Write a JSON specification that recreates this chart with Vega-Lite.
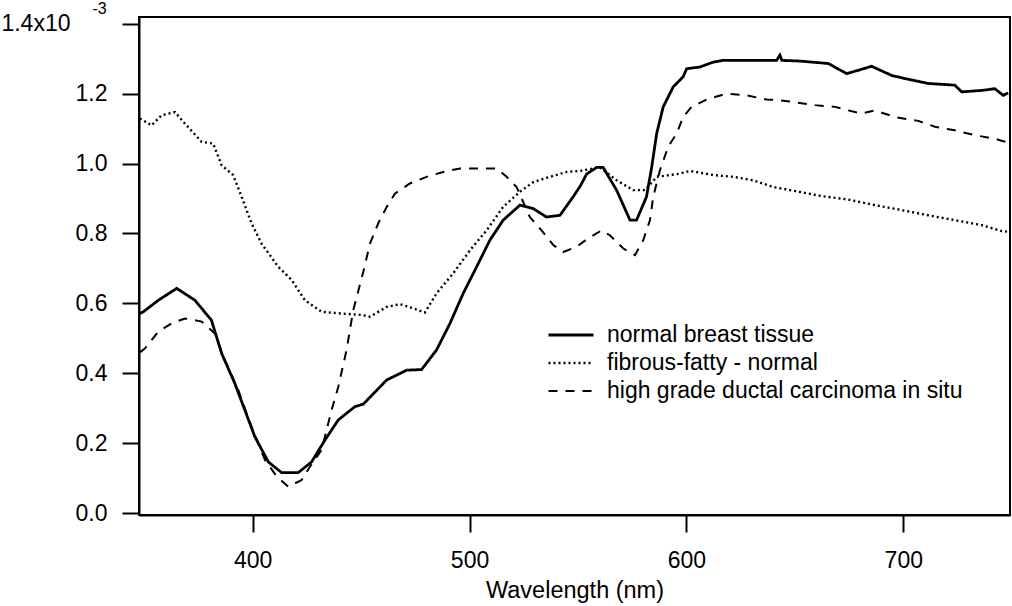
{
  "$schema": "https://vega.github.io/schema/vega-lite/v6.json",
  "width": 871,
  "height": 498,
  "autosize": "none",
  "padding": {"left": 139, "top": 17, "right": 2, "bottom": 91},
  "background": "white",
  "config": {
    "font": "Liberation Sans",
    "view": {"stroke": "black", "strokeWidth": 2},
    "axis": {
      "grid": false,
      "domainColor": "black",
      "domainWidth": 2,
      "tickColor": "black",
      "tickWidth": 2,
      "tickSize": 17,
      "labelColor": "black",
      "labelFontSize": 23,
      "labelFont": "Liberation Sans",
      "titleFont": "Liberation Sans",
      "titleColor": "black",
      "titleFontWeight": "normal",
      "titleFontSize": 23.5
    }
  },
  "datasets": {
    "spectra": [
      {"s": "normal breast tissue", "w": 347.6, "v": 0.57},
      {"s": "normal breast tissue", "w": 349.6, "v": 0.576},
      {"s": "normal breast tissue", "w": 356.5, "v": 0.609},
      {"s": "normal breast tissue", "w": 365, "v": 0.643},
      {"s": "normal breast tissue", "w": 373.4, "v": 0.609},
      {"s": "normal breast tissue", "w": 381, "v": 0.552},
      {"s": "normal breast tissue", "w": 385.7, "v": 0.457},
      {"s": "normal breast tissue", "w": 391.8, "v": 0.371},
      {"s": "normal breast tissue", "w": 396.4, "v": 0.295},
      {"s": "normal breast tissue", "w": 401, "v": 0.219},
      {"s": "normal breast tissue", "w": 407.2, "v": 0.147},
      {"s": "normal breast tissue", "w": 413.4, "v": 0.116},
      {"s": "normal breast tissue", "w": 421, "v": 0.116},
      {"s": "normal breast tissue", "w": 427.2, "v": 0.147},
      {"s": "normal breast tissue", "w": 433.3, "v": 0.209},
      {"s": "normal breast tissue", "w": 439.5, "v": 0.267},
      {"s": "normal breast tissue", "w": 447.2, "v": 0.305},
      {"s": "normal breast tissue", "w": 451, "v": 0.312},
      {"s": "normal breast tissue", "w": 461.8, "v": 0.381},
      {"s": "normal breast tissue", "w": 471, "v": 0.409},
      {"s": "normal breast tissue", "w": 477.9, "v": 0.411},
      {"s": "normal breast tissue", "w": 484.8, "v": 0.467},
      {"s": "normal breast tissue", "w": 491, "v": 0.543},
      {"s": "normal breast tissue", "w": 497.1, "v": 0.629},
      {"s": "normal breast tissue", "w": 503.3, "v": 0.705},
      {"s": "normal breast tissue", "w": 509.4, "v": 0.781},
      {"s": "normal breast tissue", "w": 515.5, "v": 0.838},
      {"s": "normal breast tissue", "w": 523.2, "v": 0.881},
      {"s": "normal breast tissue", "w": 529.4, "v": 0.871},
      {"s": "normal breast tissue", "w": 535.5, "v": 0.847},
      {"s": "normal breast tissue", "w": 541.7, "v": 0.852},
      {"s": "normal breast tissue", "w": 547.8, "v": 0.905},
      {"s": "normal breast tissue", "w": 551, "v": 0.935},
      {"s": "normal breast tissue", "w": 554, "v": 0.97},
      {"s": "normal breast tissue", "w": 558.6, "v": 0.989},
      {"s": "normal breast tissue", "w": 561.6, "v": 0.989},
      {"s": "normal breast tissue", "w": 567.8, "v": 0.924},
      {"s": "normal breast tissue", "w": 574, "v": 0.838},
      {"s": "normal breast tissue", "w": 577, "v": 0.838},
      {"s": "normal breast tissue", "w": 581.6, "v": 0.905},
      {"s": "normal breast tissue", "w": 584, "v": 0.99},
      {"s": "normal breast tissue", "w": 586.3, "v": 1.086},
      {"s": "normal breast tissue", "w": 589.3, "v": 1.162},
      {"s": "normal breast tissue", "w": 593.9, "v": 1.219},
      {"s": "normal breast tissue", "w": 598.5, "v": 1.248},
      {"s": "normal breast tissue", "w": 600.1, "v": 1.271},
      {"s": "normal breast tissue", "w": 606.2, "v": 1.276},
      {"s": "normal breast tissue", "w": 612.4, "v": 1.29},
      {"s": "normal breast tissue", "w": 617, "v": 1.295},
      {"s": "normal breast tissue", "w": 641.6, "v": 1.295},
      {"s": "normal breast tissue", "w": 643.1, "v": 1.31},
      {"s": "normal breast tissue", "w": 644, "v": 1.295},
      {"s": "normal breast tissue", "w": 652.3, "v": 1.293},
      {"s": "normal breast tissue", "w": 665.4, "v": 1.286},
      {"s": "normal breast tissue", "w": 673.9, "v": 1.257},
      {"s": "normal breast tissue", "w": 685.4, "v": 1.278},
      {"s": "normal breast tissue", "w": 694.6, "v": 1.252},
      {"s": "normal breast tissue", "w": 700.7, "v": 1.243},
      {"s": "normal breast tissue", "w": 711.5, "v": 1.229},
      {"s": "normal breast tissue", "w": 723.8, "v": 1.224},
      {"s": "normal breast tissue", "w": 726.9, "v": 1.205},
      {"s": "normal breast tissue", "w": 736.1, "v": 1.209},
      {"s": "normal breast tissue", "w": 742.2, "v": 1.214},
      {"s": "normal breast tissue", "w": 746.1, "v": 1.195},
      {"s": "normal breast tissue", "w": 748.4, "v": 1.202},

      {"s": "fibrous-fatty - normal", "w": 348, "v": 1.129},
      {"s": "fibrous-fatty - normal", "w": 353.4, "v": 1.109},
      {"s": "fibrous-fatty - normal", "w": 358, "v": 1.138},
      {"s": "fibrous-fatty - normal", "w": 364.2, "v": 1.147},
      {"s": "fibrous-fatty - normal", "w": 368.8, "v": 1.114},
      {"s": "fibrous-fatty - normal", "w": 376.5, "v": 1.062},
      {"s": "fibrous-fatty - normal", "w": 381.8, "v": 1.057},
      {"s": "fibrous-fatty - normal", "w": 385.7, "v": 0.995},
      {"s": "fibrous-fatty - normal", "w": 391, "v": 0.967},
      {"s": "fibrous-fatty - normal", "w": 394.9, "v": 0.905},
      {"s": "fibrous-fatty - normal", "w": 399.5, "v": 0.829},
      {"s": "fibrous-fatty - normal", "w": 404.1, "v": 0.771},
      {"s": "fibrous-fatty - normal", "w": 411.8, "v": 0.705},
      {"s": "fibrous-fatty - normal", "w": 418, "v": 0.667},
      {"s": "fibrous-fatty - normal", "w": 424.1, "v": 0.609},
      {"s": "fibrous-fatty - normal", "w": 431.8, "v": 0.576},
      {"s": "fibrous-fatty - normal", "w": 441, "v": 0.571},
      {"s": "fibrous-fatty - normal", "w": 450.3, "v": 0.567},
      {"s": "fibrous-fatty - normal", "w": 454.1, "v": 0.562},
      {"s": "fibrous-fatty - normal", "w": 461.8, "v": 0.59},
      {"s": "fibrous-fatty - normal", "w": 467.9, "v": 0.598},
      {"s": "fibrous-fatty - normal", "w": 474, "v": 0.586},
      {"s": "fibrous-fatty - normal", "w": 479.4, "v": 0.574},
      {"s": "fibrous-fatty - normal", "w": 484.8, "v": 0.629},
      {"s": "fibrous-fatty - normal", "w": 492.5, "v": 0.686},
      {"s": "fibrous-fatty - normal", "w": 500.2, "v": 0.752},
      {"s": "fibrous-fatty - normal", "w": 507.9, "v": 0.809},
      {"s": "fibrous-fatty - normal", "w": 515.5, "v": 0.876},
      {"s": "fibrous-fatty - normal", "w": 523.2, "v": 0.919},
      {"s": "fibrous-fatty - normal", "w": 529.4, "v": 0.947},
      {"s": "fibrous-fatty - normal", "w": 537.1, "v": 0.962},
      {"s": "fibrous-fatty - normal", "w": 544.8, "v": 0.976},
      {"s": "fibrous-fatty - normal", "w": 551, "v": 0.979},
      {"s": "fibrous-fatty - normal", "w": 560.1, "v": 0.989},
      {"s": "fibrous-fatty - normal", "w": 567.8, "v": 0.952},
      {"s": "fibrous-fatty - normal", "w": 575.5, "v": 0.924},
      {"s": "fibrous-fatty - normal", "w": 580.9, "v": 0.924},
      {"s": "fibrous-fatty - normal", "w": 586.3, "v": 0.962},
      {"s": "fibrous-fatty - normal", "w": 597, "v": 0.971},
      {"s": "fibrous-fatty - normal", "w": 601.6, "v": 0.979},
      {"s": "fibrous-fatty - normal", "w": 612.4, "v": 0.967},
      {"s": "fibrous-fatty - normal", "w": 621.6, "v": 0.962},
      {"s": "fibrous-fatty - normal", "w": 630.8, "v": 0.952},
      {"s": "fibrous-fatty - normal", "w": 640, "v": 0.933},
      {"s": "fibrous-fatty - normal", "w": 650.4, "v": 0.921},
      {"s": "fibrous-fatty - normal", "w": 662.3, "v": 0.907},
      {"s": "fibrous-fatty - normal", "w": 674.6, "v": 0.897},
      {"s": "fibrous-fatty - normal", "w": 686.9, "v": 0.881},
      {"s": "fibrous-fatty - normal", "w": 699.2, "v": 0.867},
      {"s": "fibrous-fatty - normal", "w": 711.5, "v": 0.852},
      {"s": "fibrous-fatty - normal", "w": 723.8, "v": 0.838},
      {"s": "fibrous-fatty - normal", "w": 736.1, "v": 0.824},
      {"s": "fibrous-fatty - normal", "w": 745.3, "v": 0.807},
      {"s": "fibrous-fatty - normal", "w": 748.5, "v": 0.805},

      {"s": "high grade ductal carcinoma in situ", "w": 348, "v": 0.46},
      {"s": "high grade ductal carcinoma in situ", "w": 350.3, "v": 0.471},
      {"s": "high grade ductal carcinoma in situ", "w": 356.5, "v": 0.519},
      {"s": "high grade ductal carcinoma in situ", "w": 362.7, "v": 0.543},
      {"s": "high grade ductal carcinoma in situ", "w": 368.8, "v": 0.557},
      {"s": "high grade ductal carcinoma in situ", "w": 376.5, "v": 0.548},
      {"s": "high grade ductal carcinoma in situ", "w": 382.6, "v": 0.514},
      {"s": "high grade ductal carcinoma in situ", "w": 387.2, "v": 0.438},
      {"s": "high grade ductal carcinoma in situ", "w": 393.4, "v": 0.352},
      {"s": "high grade ductal carcinoma in situ", "w": 399.5, "v": 0.247},
      {"s": "high grade ductal carcinoma in situ", "w": 405.7, "v": 0.152},
      {"s": "high grade ductal carcinoma in situ", "w": 411.1, "v": 0.105},
      {"s": "high grade ductal carcinoma in situ", "w": 416.4, "v": 0.076},
      {"s": "high grade ductal carcinoma in situ", "w": 422.6, "v": 0.095},
      {"s": "high grade ductal carcinoma in situ", "w": 426.4, "v": 0.133},
      {"s": "high grade ductal carcinoma in situ", "w": 431.8, "v": 0.181},
      {"s": "high grade ductal carcinoma in situ", "w": 436.4, "v": 0.295},
      {"s": "high grade ductal carcinoma in situ", "w": 439.5, "v": 0.362},
      {"s": "high grade ductal carcinoma in situ", "w": 443.3, "v": 0.467},
      {"s": "high grade ductal carcinoma in situ", "w": 446.4, "v": 0.581},
      {"s": "high grade ductal carcinoma in situ", "w": 451, "v": 0.69},
      {"s": "high grade ductal carcinoma in situ", "w": 454.1, "v": 0.771},
      {"s": "high grade ductal carcinoma in situ", "w": 457.9, "v": 0.829},
      {"s": "high grade ductal carcinoma in situ", "w": 461.8, "v": 0.876},
      {"s": "high grade ductal carcinoma in situ", "w": 465.6, "v": 0.914},
      {"s": "high grade ductal carcinoma in situ", "w": 472.5, "v": 0.943},
      {"s": "high grade ductal carcinoma in situ", "w": 480.2, "v": 0.962},
      {"s": "high grade ductal carcinoma in situ", "w": 487.9, "v": 0.976},
      {"s": "high grade ductal carcinoma in situ", "w": 495.6, "v": 0.986},
      {"s": "high grade ductal carcinoma in situ", "w": 504.8, "v": 0.986},
      {"s": "high grade ductal carcinoma in situ", "w": 512.5, "v": 0.986},
      {"s": "high grade ductal carcinoma in situ", "w": 517.1, "v": 0.962},
      {"s": "high grade ductal carcinoma in situ", "w": 521.7, "v": 0.933},
      {"s": "high grade ductal carcinoma in situ", "w": 527.8, "v": 0.847},
      {"s": "high grade ductal carcinoma in situ", "w": 533.2, "v": 0.809},
      {"s": "high grade ductal carcinoma in situ", "w": 538.6, "v": 0.767},
      {"s": "high grade ductal carcinoma in situ", "w": 543.2, "v": 0.747},
      {"s": "high grade ductal carcinoma in situ", "w": 549.4, "v": 0.762},
      {"s": "high grade ductal carcinoma in situ", "w": 554, "v": 0.783},
      {"s": "high grade ductal carcinoma in situ", "w": 560.9, "v": 0.809},
      {"s": "high grade ductal carcinoma in situ", "w": 564.7, "v": 0.795},
      {"s": "high grade ductal carcinoma in situ", "w": 570.9, "v": 0.757},
      {"s": "high grade ductal carcinoma in situ", "w": 576.3, "v": 0.738},
      {"s": "high grade ductal carcinoma in situ", "w": 580.1, "v": 0.781},
      {"s": "high grade ductal carcinoma in situ", "w": 583.2, "v": 0.838},
      {"s": "high grade ductal carcinoma in situ", "w": 584.7, "v": 0.905},
      {"s": "high grade ductal carcinoma in situ", "w": 587.8, "v": 0.981},
      {"s": "high grade ductal carcinoma in situ", "w": 591.6, "v": 1.048},
      {"s": "high grade ductal carcinoma in situ", "w": 595.5, "v": 1.086},
      {"s": "high grade ductal carcinoma in situ", "w": 598.5, "v": 1.133},
      {"s": "high grade ductal carcinoma in situ", "w": 602.4, "v": 1.162},
      {"s": "high grade ductal carcinoma in situ", "w": 609.3, "v": 1.183},
      {"s": "high grade ductal carcinoma in situ", "w": 618.5, "v": 1.2},
      {"s": "high grade ductal carcinoma in situ", "w": 627.8, "v": 1.195},
      {"s": "high grade ductal carcinoma in situ", "w": 637, "v": 1.183},
      {"s": "high grade ductal carcinoma in situ", "w": 643.1, "v": 1.181},
      {"s": "high grade ductal carcinoma in situ", "w": 650.4, "v": 1.175},
      {"s": "high grade ductal carcinoma in situ", "w": 659.3, "v": 1.167},
      {"s": "high grade ductal carcinoma in situ", "w": 668.5, "v": 1.162},
      {"s": "high grade ductal carcinoma in situ", "w": 674.6, "v": 1.152},
      {"s": "high grade ductal carcinoma in situ", "w": 680.8, "v": 1.143},
      {"s": "high grade ductal carcinoma in situ", "w": 686.9, "v": 1.152},
      {"s": "high grade ductal carcinoma in situ", "w": 696.1, "v": 1.133},
      {"s": "high grade ductal carcinoma in situ", "w": 706.9, "v": 1.122},
      {"s": "high grade ductal carcinoma in situ", "w": 714.6, "v": 1.105},
      {"s": "high grade ductal carcinoma in situ", "w": 723.8, "v": 1.095},
      {"s": "high grade ductal carcinoma in situ", "w": 733, "v": 1.081},
      {"s": "high grade ductal carcinoma in situ", "w": 742.2, "v": 1.071},
      {"s": "high grade ductal carcinoma in situ", "w": 745.3, "v": 1.065},
      {"s": "high grade ductal carcinoma in situ", "w": 748.5, "v": 1.06}
    ]
  },
  "data": {"name": "spectra"},
  "mark": {"type": "line", "color": "black", "clip": true},
  "encoding": {
    "x": {
      "field": "w",
      "type": "quantitative",
      "scale": {"domain": [347.6, 749.2], "nice": false, "zero": false},
      "axis": {
        "values": [400, 500, 600, 700],
        "title": "Wavelength (nm)",
        "labelPadding": 17,
        "titlePadding": 6
      }
    },
    "y": {
      "field": "v",
      "type": "quantitative",
      "scale": {"domain": [-0.005, 1.419], "nice": false, "zero": false},
      "axis": {
        "values": [0, 0.2, 0.4, 0.6, 0.8, 1.0, 1.2, 1.4],
        "labelExpr": "datum.value >= 1.39 ? '1.4x10' : format(datum.value, '.1f')",
        "labelPadding": {"condition": {"test": "datum.value >= 1.39", "value": 52}, "value": 15},
        "title": "-3",
        "titleAngle": 0,
        "titleFontSize": 16,
        "titleAlign": "center",
        "titleBaseline": "middle",
        "titleX": -40,
        "titleY": -9
      }
    },
    "strokeDash": {
      "field": "s",
      "type": "nominal",
      "scale": {
        "domain": ["normal breast tissue", "fibrous-fatty - normal", "high grade ductal carcinoma in situ"],
        "range": [[1, 0], [2, 3], [9, 8]]
      },
      "legend": {
        "title": null,
        "orient": "none",
        "legendX": 408,
        "legendY": 307,
        "symbolType": "stroke",
        "symbolSize": 2025,
        "symbolStrokeWidth": 2.8,
        "symbolStrokeColor": "black",
        "clipHeight": 22,
        "rowPadding": 5,
        "labelFontSize": 23,
        "labelFont": "Liberation Sans",
        "labelColor": "black",
        "labelOffset": 12,
        "labelLimit": 0
      }
    },
    "strokeWidth": {
      "field": "s",
      "type": "nominal",
      "scale": {
        "domain": ["normal breast tissue", "fibrous-fatty - normal", "high grade ductal carcinoma in situ"],
        "range": [2.8, 2, 2.8]
      },
      "legend": null
    }
  }
}
